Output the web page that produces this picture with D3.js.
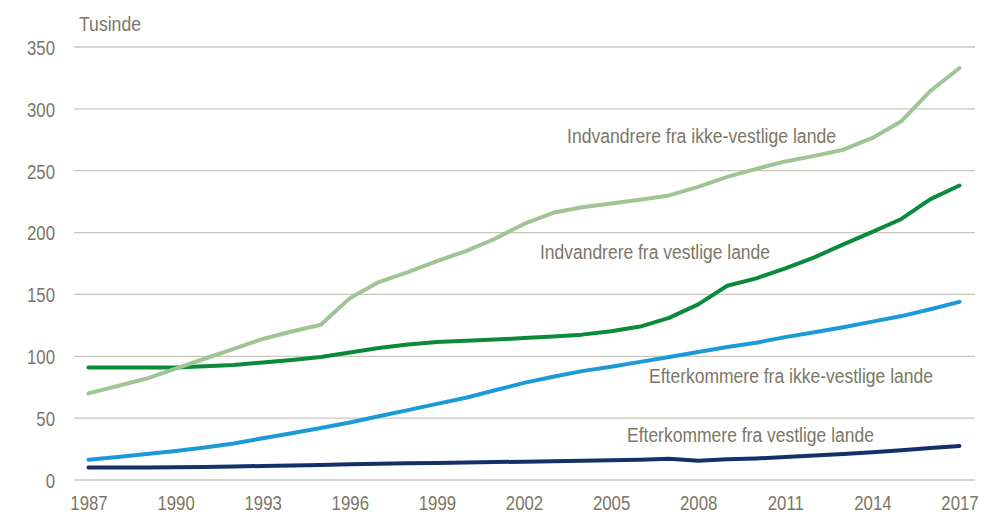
<!DOCTYPE html>
<html><head><meta charset="utf-8">
<script src="https://cdn.jsdelivr.net/npm/d3@7"></script>
<style>
body{margin:0;background:#fff;}
text{font-family:"Liberation Sans","Arial",sans-serif;fill:#7b7767;}
</style></head><body>
<svg id="c" width="993" height="515"></svg>
<script>
const years = d3.range(1987, 2018);
const yTicks = [0, 50, 100, 150, 200, 250, 300, 350];
const xTicks = [1987, 1990, 1993, 1996, 1999, 2002, 2005, 2008, 2011, 2014, 2017];
const unitLabel = "Tusinde";
const seriesNames = [
  "Indvandrere fra ikke-vestlige lande",
  "Indvandrere fra vestlige lande",
  "Efterkommere fra ikke-vestlige lande",
  "Efterkommere fra vestlige lande"
];
const indIkkeVestlige = [70,76,82,90,98,106,114,120,125.5,147,160,168,177,185,195,207,216,220.5,223.5,226.5,230,237,245,251.5,257.5,262,267,276.5,290,314.5,333];
const indVestlige = [91,91,91,91,92,93,95,97,99.5,103,106.7,109.5,111.5,112.5,113.5,114.7,115.9,117.5,120.2,124,131,142,157,163,171,180,190.5,200.5,211,227,238];
const eftIkkeVestlige = [16.4,18.5,21,23.5,26.2,29.5,33.8,37.8,42,46.5,51.5,56.5,61.5,66.5,72.5,78.5,83.5,88,91.5,95.5,99.5,103.5,107.5,111,115.5,119.5,123.5,128,132.5,138,144];
const eftVestlige = [10.2,10.2,10.2,10.3,10.6,11,11.3,11.8,12.2,12.7,13.2,13.5,13.8,14.2,14.5,14.8,15.2,15.5,15.9,16.4,17.2,15.5,16.7,17.4,18.6,19.8,21,22.4,24,25.8,27.5];
const colors = ["#9fc594", "#0b8a3c", "#1c9ad8", "#14306b"];

const svg = d3.select("#c");
const x = d3.scaleLinear().domain([1987, 2017]).range([88.5, 959.5]);
const y = d3.scaleLinear().domain([0, 350]).range([480, 47]);
const gridX0 = 74, gridX1 = 975;
const FS = 20, CONDENSE = 0.84;

function condense(sel, factor) {
  sel.each(function() {
    const w = this.getComputedTextLength();
    d3.select(this).attr("textLength", w * factor).attr("lengthAdjust", "spacingAndGlyphs");
  });
}

svg.append("g").selectAll("line").data(yTicks).join("line")
  .attr("x1", gridX0).attr("x2", gridX1)
  .attr("y1", d => y(d)).attr("y2", d => y(d))
  .attr("stroke", "#c9c7bb").attr("stroke-width", 1.3);

const yAxis = d3.axisLeft(y).tickValues(yTicks).tickSize(0).tickPadding(0);
const gy = svg.append("g").attr("transform", "translate(55,1)").call(yAxis);
gy.select(".domain").remove();
gy.selectAll("text").attr("font-size", FS).attr("fill", "#7b7767")
  .style("font-family", '"Liberation Sans",Arial,sans-serif').call(condense, CONDENSE);

const xAxis = d3.axisBottom(x).tickValues(xTicks).tickFormat(d3.format("d")).tickSize(0).tickPadding(0);
const gx = svg.append("g").attr("transform", "translate(0,496)").call(xAxis);
gx.select(".domain").remove();
gx.selectAll("text").attr("font-size", FS).attr("fill", "#7b7767")
  .style("font-family", '"Liberation Sans",Arial,sans-serif').call(condense, CONDENSE);

svg.append("text").attr("x", 79).attr("y", 31).attr("font-size", FS).text(unitLabel)
  .attr("textLength", 62).attr("lengthAdjust", "spacingAndGlyphs");

const allSeries = [indIkkeVestlige, indVestlige, eftIkkeVestlige, eftVestlige];
const line = d3.line().x((d, i) => x(years[i])).y(d => y(d));
[3, 2, 1, 0].forEach(k => {
  svg.append("path").attr("d", line(allSeries[k]))
    .attr("fill", "none").attr("stroke", colors[k]).attr("stroke-width", 4)
    .attr("stroke-linejoin", "round").attr("stroke-linecap", "round");
});

const labelPos = [[567, 143], [540, 259], [649, 383], [627, 442]];
const labelWidth = [269, 230, 284, 247];
seriesNames.forEach((n, k) => {
  svg.append("text").attr("x", labelPos[k][0]).attr("y", labelPos[k][1])
    .attr("font-size", FS).attr("textLength", labelWidth[k])
    .attr("lengthAdjust", "spacingAndGlyphs").text(n);
});
</script>
</body></html>
